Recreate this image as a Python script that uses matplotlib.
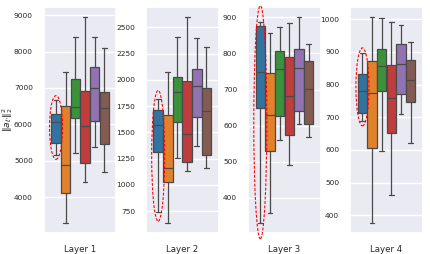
import matplotlib
matplotlib.use("Agg")
import matplotlib.pyplot as plt
from matplotlib.patches import Ellipse
from matplotlib.ticker import MultipleLocator
import seaborn as sns

sns.set_theme(style="darkgrid")

layers = ["Layer 1", "Layer 2", "Layer 3", "Layer 4"]

# box stats per layer, one entry per hue group: (whislo, q1, med, q3, whishi)
layer1 = [(5160, 5500, 6070, 6280, 6670),
          (3300, 4110, 4890, 6500, 7430),
          (5210, 6170, 6470, 7240, 8410),
          (4410, 4930, 5960, 6930, 8940),
          (5380, 6080, 7000, 7590, 8410),
          (4680, 5460, 6440, 6880, 8100)]
layer2 = [(740, 1315, 1566, 1712, 1814),
          (640, 1023, 1157, 1665, 2071),
          (1258, 1601, 1881, 2024, 2411),
          (1131, 1214, 1484, 1989, 2595),
          (1370, 1643, 1944, 2100, 2395),
          (1157, 1284, 1700, 1925, 2316)]
layer3 = [(331, 649, 749, 876, 888),
          (359, 531, 629, 747, 858),
          (559, 628, 756, 808, 874),
          (491, 573, 682, 790, 885),
          (605, 641, 761, 813, 900),
          (569, 604, 701, 778, 825)]
layer4 = [(690, 712, 780, 832, 896),
          (377, 606, 773, 871, 1006),
          (597, 780, 857, 908, 1003),
          (461, 653, 759, 860, 992),
          (711, 771, 862, 924, 984),
          (622, 748, 815, 876, 932)]
all_stats = [layer1, layer2, layer3, layer4]
tick_steps = [1000, 250, 100, 100]

colors = sns.color_palette("tab10", 6, desat=0.75)
line_col = "#4a4a4a"

fig, axes = plt.subplots(1, 4, figsize=(4.31, 2.54), dpi=100)
fig.subplots_adjust(left=0.102, right=0.981, bottom=0.083, top=0.972, wspace=0.41)

n = 6
w = 0.8 / n
positions = [-0.4 + w / 2 + i * w for i in range(n)]

for ax, name, stats, step in zip(axes, layers, all_stats, tick_steps):
    bx = [dict(whislo=s[0], q1=s[1], med=s[2], q3=s[3], whishi=s[4], fliers=[])
          for s in stats]
    res = ax.bxp(bx, positions=positions, widths=w * 0.98, patch_artist=True,
                 showfliers=False, manage_ticks=False,
                 boxprops=dict(edgecolor=line_col, linewidth=0.9),
                 medianprops=dict(color=line_col, linewidth=0.9),
                 whiskerprops=dict(color=line_col, linewidth=0.9),
                 capprops=dict(color=line_col, linewidth=0.9))
    for patch, c in zip(res["boxes"], colors):
        patch.set_facecolor(c)
    ax.margins(y=0.05)
    ax.autoscale_view()
    ylim = ax.get_ylim()
    ax.set_xlim(-0.5, 0.5)
    ax.set_xticks([0])
    ax.set_xticklabels([name], fontsize=6.2)
    ax.xaxis.grid(False)
    ax.yaxis.set_major_locator(MultipleLocator(step))
    ax.tick_params(axis="y", labelsize=5.3, pad=2)
    ax.tick_params(axis="x", pad=3)

    # dashed ellipse around the first group
    lo, hi = stats[0][0], stats[0][4]
    pad = 0.08 * (hi - lo)
    ax.add_patch(Ellipse((positions[0], (lo + hi) / 2), w * 1.35, hi - lo + 2 * pad,
                         fill=False, edgecolor="red", linestyle=(0, (2.5, 1.5)),
                         linewidth=0.8, clip_on=False, zorder=5))
    ax.set_ylim(ylim)

axes[0].set_ylabel(r"$\|a_{\ell'}\|_2^2$", fontsize=6.5, labelpad=2)
axes[0].yaxis.set_label_coords(-0.4, 0.5)

fig.savefig("out.png", dpi=100)
